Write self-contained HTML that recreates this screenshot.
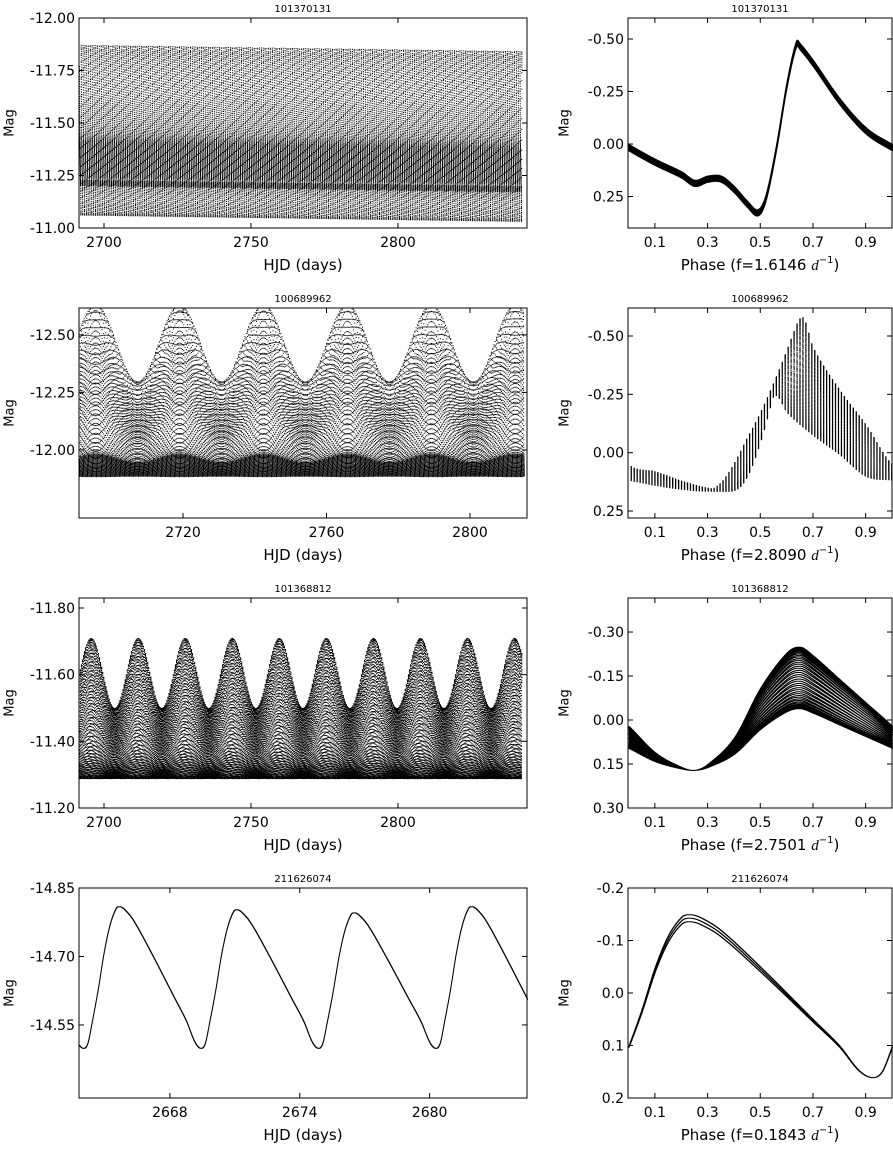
<!DOCTYPE html>
<html><head><meta charset="utf-8"><style>
html,body{margin:0;padding:0;background:#fff;}
svg{display:block;font-family:"DejaVu Sans","Liberation Sans",sans-serif;}
</style></head><body>
<svg id="fig" width="893" height="1159" viewBox="0 0 893 1159" xmlns="http://www.w3.org/2000/svg"></svg>
<script>
// ---- template light-curve shapes ----
const row1Phase=[0,0.1,0.2,0.25,0.3,0.35,0.4,0.45,0.49,0.52,0.56,0.6,0.635,0.65,0.7,0.8,0.9,1.0];
const row1Mag=[0.0,0.07,0.13,0.17,0.15,0.15,0.2,0.27,0.31,0.24,0.0,-0.3,-0.49,-0.48,-0.4,-0.22,-0.08,0.0];
const row2Phase=[0,0.1,0.2,0.3,0.4,0.45,0.5,0.55,0.62,0.66,0.7,0.8,0.9,1.0];
const row2Mag=[0.05,0.08,0.12,0.15,0.16,0.1,-0.05,-0.25,-0.5,-0.58,-0.45,-0.27,-0.12,0.05];
const row3Phase=[0,0.1,0.2,0.25,0.3,0.4,0.5,0.6,0.65,0.7,0.8,0.9,1.0];
const row3Mag=[0.02,0.11,0.16,0.17,0.15,0.06,-0.11,-0.23,-0.25,-0.22,-0.14,-0.06,0.02];
const row4Phase=[0,0.05,0.1,0.15,0.2,0.23,0.27,0.35,0.5,0.7,0.8,0.87,0.92,0.96,1.0];
const row4Mag=[0.1,0.03,-0.05,-0.11,-0.145,-0.15,-0.145,-0.12,-0.05,0.05,0.1,0.145,0.16,0.15,0.1];
const cycleAmp4=[1.0,0.88,0.76];
// ---- star parameters ----
const titles=["101370131","100689962","101368812","211626074"];
const freqs=[1.6146,2.8090,2.7501,0.1843];
const freqLabels=["1.6146","2.8090","2.7501","0.1843"];
const offsets=[-11.375,-12.05,-11.46,-14.66];
const timeStart=[2691,2691,2691,2663.8];
const timeEnd=[2842,2815,2842,2684.5];
const timeStep=[0.004,0.004,0.004,0.004];
const modPeriod=[0,23.4,16,0];
const modMin=[1,0.55,0.5,1];
// ---- axes ----
const leftXTicks=[[2700,2750,2800],[2720,2760,2800],[2700,2750,2800],[2668,2674,2680]];
const leftXDomain=[[2691.5,2843.9],[2691,2815.9],[2691.5,2843.9],[2663.8,2684.5]];
const leftYTicks=[[-12,-11.75,-11.5,-11.25,-11],[-12.5,-12.25,-12],[-11.8,-11.6,-11.4,-11.2],[-14.85,-14.7,-14.55]];
const leftYDomain=[[-12,-11],[-12.617,-11.704],[-11.83,-11.2],[-14.85,-14.39]];
const rightYTicks=[[-0.5,-0.25,0,0.25],[-0.5,-0.25,0,0.25],[-0.3,-0.15,0,0.15,0.3],[-0.2,-0.1,0,0.1,0.2]];
const rightYDomain=[[-0.6,0.4],[-0.62,0.28],[-0.416,0.3],[-0.2,0.2]];
const rightYDec=[2,2,2,1];
const phaseTicks=[0.1,0.3,0.5,0.7,0.9];

const NS="http://www.w3.org/2000/svg";
const svg=document.getElementById('fig');
function el(tag,attrs,parent){const e=document.createElementNS(NS,tag);for(const k in attrs)e.setAttribute(k,attrs[k]);(parent||svg).appendChild(e);return e;}
// periodic Catmull-Rom interpolation through template points (last point == first point)
function interp(P,V,p){
  const n=P.length-1;
  let i=1;while(i<n&&p>P[i])i++;
  const i0=i-1,i1=i;
  const vm=i0===0?V[n-1]:V[i0-1];
  const vp=i1===n?V[1]:V[i1+1];
  const pm=i0===0?P[n-1]-1:P[i0-1];
  const pp=i1===n?P[1]+1:P[i1+1];
  const h=P[i1]-P[i0];const t=(p-P[i0])/h;
  const m0=(V[i1]-vm)/(P[i1]-pm)*h, m1=(vp-V[i0])/(pp-P[i0])*h;
  const t2=t*t,t3=t2*t;
  return (2*t3-3*t2+1)*V[i0]+(t3-2*t2+t)*m0+(-2*t3+3*t2)*V[i1]+(t3-t2)*m1;
}
function frac(x){return x-Math.floor(x);}
const templates=[[row1Phase,row1Mag],[row2Phase,row2Mag],[row3Phase,row3Mag],[row4Phase,row4Mag]];
const LX0=79,LX1=527,RX0=628,RX1=892,H=210,rowTop=[18,308,598,888];

function fmt(v,d){let s=Math.abs(v).toFixed(d);return (v<0?'-':'')+s;}

function frame(g,x0,x1,y0,y1,xs,xd,ys,yd,ylabDec,xtickFmt){
  el('rect',{x:x0,y:y0,width:x1-x0,height:y1-y0,fill:'none',stroke:'#000','stroke-width':1,},g);
  const sx=v=>x0+(v-xd[0])/(xd[1]-xd[0])*(x1-x0);
  const sy=v=>y0+(v-yd[0])/(yd[1]-yd[0])*(y1-y0);
  xs.forEach(v=>{const x=sx(v);
    el('line',{x1:x,x2:x,y1:y1,y2:y1-5,stroke:'#000'},g);
    el('line',{x1:x,x2:x,y1:y0,y2:y0+5,stroke:'#000'},g);
    const t=el('text',{x:x,y:y1+19,'text-anchor':'middle','font-size':14},g);
    
    
    t.textContent=xtickFmt(v);});
  ys.forEach(v=>{const y=sy(v);
    el('line',{x1:x0,x2:x0+5,y1:y,y2:y,stroke:'#000'},g);
    el('line',{x1:x1,x2:x1-5,y1:y,y2:y,stroke:'#000'},g);
    const t=el('text',{x:x0-4,y:y+5,'text-anchor':'end','font-size':14},g);
    
    
    t.textContent=fmt(v,ylabDec);});
  return [sx,sy];
}

for(let r=0;r<4;r++){
  const y0=rowTop[r],y1=y0+H;
  const [P,V]=templates[r];
  const gL=el('g',{});
  const gR=el('g',{});
  const [lsx,lsy]=frame(gL,LX0,LX1,y0,y1,leftXTicks[r],leftXDomain[r],leftYTicks[r],leftYDomain[r],2,v=>String(v));
  const [rsx,rsy]=frame(gR,RX0,RX1,y0,y1,phaseTicks,[-0.002,1.0],rightYTicks[r],rightYDomain[r],rightYDec[r],v=>v.toFixed(1));
  [[gL,(LX0+LX1)/2],[gR,(RX0+RX1)/2]].forEach(([g,cx])=>{
    const t=el('text',{x:cx,y:y0-6,'text-anchor':'middle','font-size':10},g);
    
    
    t.textContent=titles[r];});
  [[gL,10],[gR,565]].forEach(([g,x])=>{
    const t=el('text',{x:x,y:(y0+y1)/2,'text-anchor':'middle','font-size':13,transform:`rotate(-90 ${x} ${(y0+y1)/2})`,'dominant-baseline':'middle'},g);
    
    
    t.textContent='Mag';});
  const xl=el('text',{x:(LX0+LX1)/2,y:y1+42,'text-anchor':'middle','font-size':15},gL);
  
  
  xl.textContent='HJD (days)';
  const xr=el('text',{x:(RX0+RX1)/2,y:y1+42,'text-anchor':'middle','font-size':15},gR);
  
  
  xr.innerHTML=`Phase (f=${freqLabels[r]}  <tspan font-style="italic" font-family="Liberation Serif, serif">d</tspan><tspan dy="-7" font-size="10">−1</tspan><tspan dy="7">)</tspan>`;
  let dL='',dR='';
  const f=freqs[r];
  for(let t=timeStart[r];t<=timeEnd[r];t+=timeStep[r]){
    let p,v;
    if(r===3){
      const t0=2664.4;const ph=(t-t0)*f;p=frac(ph);
      const cyc=((Math.floor(ph+0.08))%cycleAmp4.length+cycleAmp4.length)%cycleAmp4.length;
      const a=cycleAmp4[cyc];
      v=interp(P,V,p);v=0.16+(v-0.16)*(0.82+0.18*a);
    }else{
      p=frac(t*f);
      let a=1;
      if(modPeriod[r]>0){a=1-(1-modMin[r])*(0.5-0.5*Math.cos(2*Math.PI*(t-2695.5)/modPeriod[r]));}
      const sh=r===1?0.1*(1-a)/0.45:0;
      v=interp(P,V,frac(p+sh));
      if(r===1)v=0.16+(v-0.16)*a;
      if(r===2)v=0.17+(v-0.17)*a;
      if(r===0)v=v+0.03*(t-2691)/150;
    }
    const m=offsets[r]+v;
    const xl=lsx(t),yl=lsy(m);
    if(xl>=LX0&&xl<=LX1&&yl>=y0&&yl<=y1)dL+=`M${xl.toFixed(1)} ${yl.toFixed(1)}h1v1h-1z`;
    const xr2=rsx(p),yr=rsy(v);
    if(yr>=y0&&yr<=y1)dR+=`M${xr2.toFixed(1)} ${yr.toFixed(1)}h1v1h-1z`;
  }
  const pl=el('path',{d:dL,fill:'#000'},gL);
  
  
  const pr=el('path',{d:dR,fill:'#000'},gR);
  
  
}
</script>
</body></html>
